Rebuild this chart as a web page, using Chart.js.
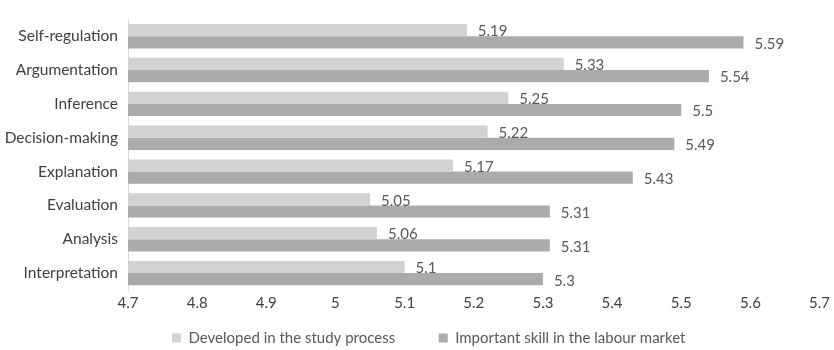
<!DOCTYPE html>
<html>
<head>
<meta charset="utf-8">
<script src="https://cdn.jsdelivr.net/npm/chart.js@4.4.1/dist/chart.umd.min.js"></script>
<style>
  html, body { margin: 0; padding: 0; background: #fff; }
  #wrap { width: 834px; height: 350px; }
</style>
</head>
<body>
<div id="wrap"><canvas id="chart"></canvas></div>
<script>
// data
const skills = ["Self-regulation", "Argumentation", "Inference", "Decision-making",
                "Explanation", "Evaluation", "Analysis", "Interpretation"]
const developed = [5.19, 5.33, 5.25, 5.22, 5.17, 5.05, 5.06, 5.1]
const important = [5.59, 5.54, 5.5, 5.49, 5.43, 5.31, 5.31, 5.3]
const seriesNames = ["Developed in the study process", "Important skill in the labour market"]
const axisMin = 4.7
const axisMax = 5.7

const fontFamily = "Lato, 'Liberation Sans', sans-serif"

// small plugin to write the value next to each bar
const valueLabels = {
    id: 'valueLabels',
    afterDatasetsDraw(chart) {
        const ctx = chart.ctx
        ctx.save()
        ctx.font = "15px " + fontFamily
        ctx.fillStyle = "#595959"
        ctx.textAlign = "left"
        ctx.textBaseline = "middle"
        chart.data.datasets.forEach((ds, i) => {
            chart.getDatasetMeta(i).data.forEach((bar, j) => {
                ctx.fillText(String(ds.data[j]), bar.x + 11, bar.y + 1.5)
            })
        })
        ctx.restore()
    }
}

let ctx = document.getElementById("chart")

let chartGraph = new Chart(ctx, {
    type: "bar",
    data: {
        labels: skills,
        datasets: [{
            label: seriesNames[0],
            data: developed,
            backgroundColor: "#d2d2d2"
        }, {
            label: seriesNames[1],
            data: important,
            backgroundColor: "#ababab"
        }]
    },
    options: {
        indexAxis: "y",
        responsive: true,
        maintainAspectRatio: false,
        animation: false,
        categoryPercentage: 0.72,
        barPercentage: 1,
        layout: { padding: { top: 7, right: 14, bottom: -5.5, left: 0 } },
        scales: {
            x: {
                min: axisMin,
                max: axisMax,
                grid: { display: false, drawTicks: false },
                border: { display: false },
                ticks: {
                    stepSize: 0.1,
                    padding: 4,
                    color: "#404040",
                    font: { size: 15, family: fontFamily },
                    callback: (v) => String(+Number(v).toFixed(1))
                },
                afterFit: (scale) => { scale.height = 34.5 }
            },
            y: {
                grid: { display: false, drawTicks: false },
                border: { display: true, color: "#d9d9d9" },
                ticks: {
                    padding: 10,
                    color: "#404040",
                    font: { size: 15.5, family: fontFamily }
                },
                afterFit: (scale) => { scale.width = 128 }
            }
        },
        plugins: {
            legend: {
                position: "bottom",
                fullSize: false,
                labels: {
                    boxWidth: 9,
                    boxHeight: 9,
                    padding: 6,
                    color: "#595959",
                    font: { size: 15, family: fontFamily },
                    // extra blank room after the entries so the legend sits like the original
                    generateLabels: (chart) => {
                        let items = Chart.defaults.plugins.legend.labels.generateLabels(chart)
                        items[0].text = items[0].text + "\u2003\u2003\u2003\u2005"
                        items[1].text = items[1].text + "\u2003".repeat(8)
                        return items
                    }
                }
            },
            tooltip: { enabled: false }
        }
    },
    plugins: [valueLabels]
})
</script>
</body>
</html>
